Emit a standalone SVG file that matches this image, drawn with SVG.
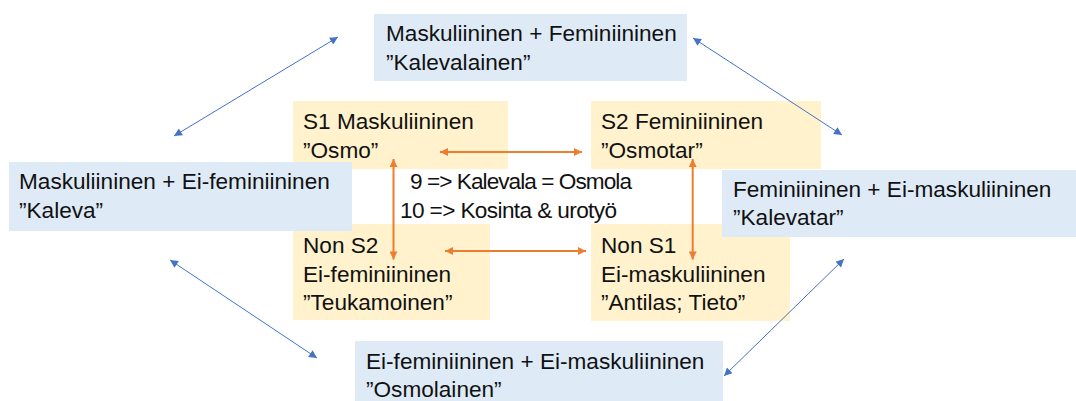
<svg xmlns="http://www.w3.org/2000/svg" width="1076" height="401" viewBox="0 0 1076 401">
<style>
  text { font-family: "Liberation Sans", Arial, sans-serif; font-size: 22.6px; fill: #111111; }
  .y { fill: #FFF2CC; }
  .b { fill: #DEEBF7; }
  .o { stroke: #ED7D31; stroke-width: 2; fill: none; }
  .l { stroke: #4472C4; stroke-width: 1; fill: none; }
</style>
<defs>
  <marker id="ao" viewBox="0 0 10 10" refX="10" refY="5" markerWidth="9" markerHeight="8" markerUnits="userSpaceOnUse" orient="auto-start-reverse">
    <path d="M0,0 L10,5 L0,10 z" fill="#ED7D31"/>
  </marker>
  <marker id="ab" viewBox="0 0 10 10" refX="10" refY="5" markerWidth="10" markerHeight="8" markerUnits="userSpaceOnUse" orient="auto-start-reverse">
    <path d="M0,0 L10,5 L0,10 z" fill="#4472C4"/>
  </marker>
</defs>
<rect width="1076" height="401" fill="#FFFFFF"/>

<g id="s1">
  <rect class="y" x="293" y="101" width="215" height="68"/>
  <text x="303" y="129">S1 Maskuliininen</text>
  <text x="303" y="158">”Osmo”</text>
</g>
<g id="s2">
  <rect class="y" x="591" y="101" width="230" height="68"/>
  <text x="601" y="129">S2 Feminiininen</text>
  <text x="601" y="158">”Osmotar”</text>
</g>
<g id="nons2">
  <rect class="y" x="293" y="224" width="197" height="96"/>
  <text x="303" y="252.5">Non S2</text>
  <text x="303" y="281.5">Ei-feminiininen</text>
  <text x="303" y="310">”Teukamoinen”</text>
</g>
<g id="nons1">
  <rect class="y" x="591" y="224" width="199" height="97"/>
  <text x="601" y="252.5">Non S1</text>
  <text x="601" y="281.5">Ei-maskuliininen</text>
  <text x="601" y="310">”Antilas; Tieto”</text>
</g>

<g id="kalevalainen">
  <rect class="b" x="374" y="14" width="313" height="67"/>
  <text x="386" y="41">Maskuliininen + Feminiininen</text>
  <text x="386" y="70">”Kalevalainen”</text>
</g>
<g id="kaleva">
  <rect class="b" x="9" y="162" width="343" height="69"/>
  <text x="19" y="189">Maskuliininen + Ei-feminiininen</text>
  <text x="19" y="218">”Kaleva”</text>
</g>
<g id="kalevatar">
  <rect class="b" x="722" y="170" width="354" height="67"/>
  <text x="733" y="197">Feminiininen + Ei-maskuliininen</text>
  <text x="733" y="225">”Kalevatar”</text>
</g>
<g id="osmolainen">
  <rect class="b" x="355" y="341" width="368" height="60"/>
  <text x="366" y="369">Ei-feminiininen + Ei-maskuliininen</text>
  <text x="366" y="397">”Osmolainen”</text>
</g>

<g id="center-note">
  <text x="410" y="189" textLength="222" lengthAdjust="spacing">9 =&gt; Kalevala = Osmola</text>
  <text x="400" y="218" textLength="217" lengthAdjust="spacing">10 =&gt; Kosinta &amp; urotyö</text>
</g>

<g id="connectors">
  <line class="o" x1="440" y1="152" x2="582" y2="152" marker-start="url(#ao)" marker-end="url(#ao)"/>
  <line class="o" x1="445" y1="251" x2="586" y2="251" marker-start="url(#ao)" marker-end="url(#ao)"/>
  <line class="o" x1="393.5" y1="159" x2="393.5" y2="259.5" marker-start="url(#ao)" marker-end="url(#ao)"/>
  <line class="o" x1="692.7" y1="159" x2="692.7" y2="259.5" marker-start="url(#ao)" marker-end="url(#ao)"/>
  <line class="l" x1="338" y1="37" x2="174" y2="136" marker-start="url(#ab)" marker-end="url(#ab)"/>
  <line class="l" x1="693" y1="38" x2="842" y2="135" marker-start="url(#ab)" marker-end="url(#ab)"/>
  <line class="l" x1="170" y1="260" x2="317" y2="358" marker-start="url(#ab)" marker-end="url(#ab)"/>
  <line class="l" x1="844" y1="259" x2="724" y2="376" marker-start="url(#ab)" marker-end="url(#ab)"/>
</g>
</svg>
